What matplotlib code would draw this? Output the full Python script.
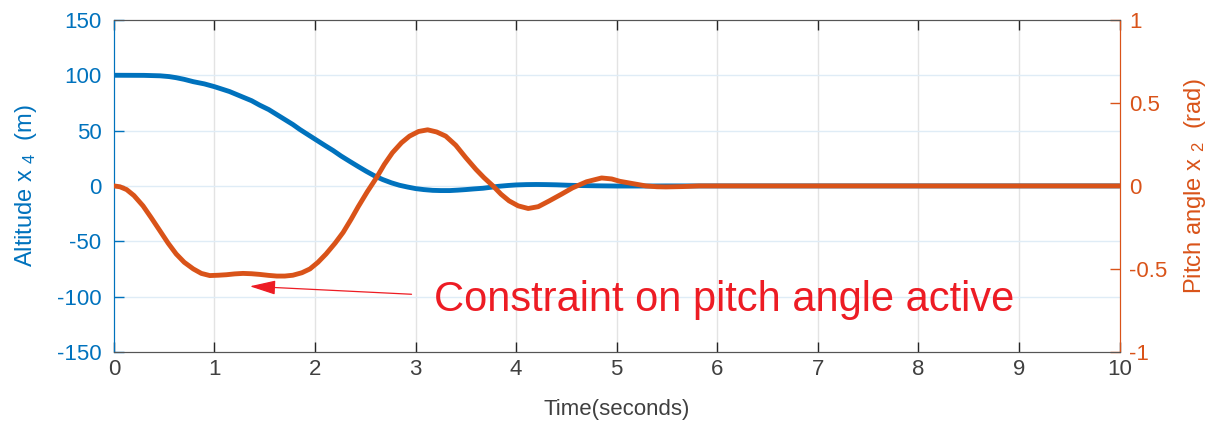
import matplotlib
matplotlib.use("Agg")
import matplotlib.pyplot as plt

plt.rcParams['font.family'] = ['Liberation Sans', 'DejaVu Sans']
plt.rcParams['mathtext.fontset'] = 'custom'
plt.rcParams['mathtext.rm'] = 'Liberation Sans'
plt.rcParams['mathtext.it'] = 'Liberation Sans'
plt.rcParams['axes.unicode_minus'] = False

# ---- data ----
t_alt = [0, 0.3, 0.46, 0.55, 0.62, 0.7, 0.79, 0.9, 1.0, 1.15, 1.285, 1.37, 1.45, 1.54,
         1.62, 1.7, 1.78, 1.85, 1.91, 2.01, 2.1, 2.18, 2.26, 2.345, 2.43, 2.51, 2.59,
         2.675, 2.76, 2.84, 2.92, 3.0, 3.08, 3.17, 3.25, 3.34, 3.42, 3.5, 3.58, 3.67,
         3.75, 3.83, 3.92, 4.0, 4.1, 4.2, 4.3, 4.4, 4.52, 4.66, 4.8, 5.0, 5.25, 5.5,
         6, 7, 8, 9, 10]
altitude = [100, 99.9, 99.5, 98.8, 97.8, 96.3, 94.2, 92.2, 89.7, 85.3, 80.2, 77.0, 73.0, 69.0,
            64.5, 60.0, 55.5, 51.0, 47.5, 41.7, 36.5, 32.0, 27.0, 22.2, 17.5, 13.2, 9.2,
            5.7, 2.8, 0.6, -1.0, -2.4, -3.3, -4.0, -4.2, -4.2, -3.8, -3.3, -2.7, -2.1,
            -1.2, -0.3, 0.4, 0.9, 1.2, 1.3, 1.2, 1.0, 0.6, 0.3, 0.1, -0.1, -0.1, 0,
            0, 0, 0, 0, 0]

t_pitch = [0, 0.06, 0.127, 0.2, 0.29, 0.37, 0.458, 0.54, 0.62, 0.7, 0.79, 0.87, 0.954,
           1.04, 1.12, 1.2, 1.285, 1.37, 1.45, 1.54, 1.62, 1.7, 1.78, 1.87, 1.95, 2.03,
           2.11, 2.2, 2.28, 2.36, 2.43, 2.52, 2.61, 2.69, 2.77, 2.86, 2.94, 3.03, 3.12,
           3.21, 3.3, 3.4, 3.5, 3.6, 3.68, 3.77, 3.85, 3.93, 4.02, 4.12, 4.22, 4.33,
           4.45, 4.56, 4.7, 4.85, 4.95, 5.03, 5.15, 5.29, 5.4, 5.49, 5.65, 5.82, 6.2,
           7, 8, 9, 10]
pitch = [0, -0.005, -0.022, -0.058, -0.12, -0.19, -0.27, -0.345, -0.41, -0.46, -0.5, -0.527, -0.54,
         -0.538, -0.535, -0.53, -0.527, -0.529, -0.533, -0.539, -0.543, -0.543, -0.538, -0.523, -0.5, -0.46,
         -0.41, -0.345, -0.28, -0.2, -0.125, -0.035, 0.048, 0.13, 0.2, 0.26, 0.3, 0.328, 0.338,
         0.325, 0.3, 0.245, 0.17, 0.1, 0.05, 0.0, -0.05, -0.09, -0.12, -0.136, -0.125, -0.09,
         -0.05, -0.012, 0.025, 0.048, 0.042, 0.028, 0.015, 0.0, -0.005, -0.006, -0.004, 0.0, 0.0,
         0, 0, 0, 0]

x_ticks = list(range(0, 11))
left_ticks = [-150, -100, -50, 0, 50, 100, 150]
left_ticklabels = ['-150', '-100', '-50', '0', '50', '100', '150']
right_ticks = [-1, -0.5, 0, 0.5, 1]
right_ticklabels = ['-1', '-0.5', '0', '0.5', '1']

annotation_text = 'Constraint on pitch angle active'

BLUE = '#0072BD'
ORANGE = '#D95319'
GRAY = '#262626'
RED = '#ED1C24'

fig = plt.figure(figsize=(12.11, 4.24), dpi=100)
ax1 = fig.add_axes([0.094, 0.170, 0.8305, 0.783])
ax2 = ax1.twinx()

# grid
ax1.set_axisbelow(True)
for xv in x_ticks[1:-1]:
    ax1.axvline(xv, color='#e3e3e3', lw=1.0, zorder=0)
for yv in left_ticks[1:-1]:
    ax1.axhline(yv, color='#dfecf6', lw=1.0, zorder=0)

ax1.plot(t_alt, altitude, color=BLUE, lw=3.5, solid_capstyle='round',
         solid_joinstyle='round', zorder=3)
ax2.plot(t_pitch, pitch, color=ORANGE, lw=3.5, solid_capstyle='round',
         solid_joinstyle='round', zorder=3)

ax1.set_xlim(0, 10)
ax1.set_ylim(-150, 150)
ax2.set_ylim(-1, 1)

ax1.set_xticks(x_ticks)
ax1.set_xticklabels([str(v) for v in x_ticks])
ax1.set_yticks(left_ticks)
ax1.set_yticklabels(left_ticklabels)
ax2.set_yticks(right_ticks)
ax2.set_yticklabels(right_ticklabels)

ax1.tick_params(axis='x', direction='in', length=7, width=1, colors=GRAY,
                labelsize=16, top=True, pad=5)
ax1.tick_params(axis='x', labelcolor='#404040')
ax1.tick_params(axis='y', direction='in', length=7, width=1, colors=BLUE,
                labelsize=16, pad=9)
ax2.tick_params(axis='y', direction='in', length=7, width=1, colors=ORANGE,
                labelsize=16, pad=7)

for ax in (ax1, ax2):
    ax.spines['top'].set_color('#555555')
    ax.spines['bottom'].set_color('#555555')
    ax.spines['left'].set_color(BLUE)
    ax.spines['right'].set_color(ORANGE)

ax1.set_ylabel('Altitude x $_{4}$  (m)', color=BLUE, fontsize=17)
ax1.yaxis.set_label_coords(-0.074, 0.5)
ax2.set_ylabel('Pitch angle x $_{2}$  (rad)', color=ORANGE, fontsize=17)
ax2.yaxis.set_label_coords(1.062, 0.5)
ax1.set_xlabel('Time(seconds)', color='#404040', fontsize=16)
ax1.xaxis.set_label_coords(0.5, -0.142)

ax1.annotate('', xy=(1.352, -90.7), xytext=(2.96, -97.9),
             arrowprops=dict(arrowstyle='-|>,head_length=0.8,head_width=0.22',
                             mutation_scale=20, color=RED, lw=0.9,
                             shrinkA=0, shrinkB=0),
             zorder=5)
ax1.text(3.18, -103.5, annotation_text, color=RED, fontsize=30,
         ha='left', va='center', zorder=5)

fig.savefig('out.png', dpi=100)
